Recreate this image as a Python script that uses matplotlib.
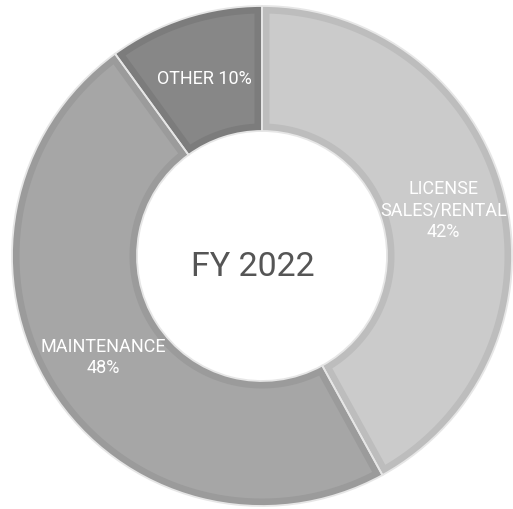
import numpy as np
import matplotlib
matplotlib.use("Agg")
import matplotlib.pyplot as plt
from matplotlib.patches import Polygon

plt.rcParams['font.family'] = ['Roboto', 'DejaVu Sans']

categories = ["LICENSE\nSALES/RENTAL", "MAINTENANCE", "OTHER"]
values = [42, 48, 10]
label_texts = ["LICENSE\nSALES/RENTAL\n42%", "MAINTENANCE\n48%", "OTHER 10%"]
fill_colors = ["#cbcbcb", "#a6a6a6", "#878787"]
border_colors = ["#bdbdbd", "#9b9b9b", "#7c7c7c"]
center_text = "FY 2022"

W, H = 513, 510
dpi = 100
fig = plt.figure(figsize=(W / dpi, H / dpi), dpi=dpi)
ax = fig.add_axes([0, 0, 1, 1])
cx, cy, R = 262, 257, 250
ring_w = 0.5
b = 7.5 / R  # inner border thickness in data units

# base wedges in border colour
wedges, _ = ax.pie(values, startangle=90, counterclock=False, radius=1.0,
                   colors=border_colors, wedgeprops=dict(width=ring_w, linewidth=0))

# inset fill region of each wedge
for w, fc in zip(wedges, fill_colors):
    a1, a2 = np.deg2rad(w.theta1), np.deg2rad(w.theta2)
    ro, ri = 1.0 - b, 1.0 - ring_w + b
    o1, o2 = a1 + np.arcsin(b / ro), a2 - np.arcsin(b / ro)
    i1, i2 = a1 + np.arcsin(b / ri), a2 - np.arcsin(b / ri)
    to = np.linspace(o1, o2, 120)
    ti = np.linspace(i2, i1, 120)
    pts = np.vstack([np.column_stack([ro * np.cos(to), ro * np.sin(to)]),
                     np.column_stack([ri * np.cos(ti), ri * np.sin(ti)])])
    ax.add_patch(Polygon(pts, closed=True, facecolor=fc, edgecolor='none', zorder=2))

# thin light separators
seps, _ = ax.pie(values, startangle=90, counterclock=False, radius=1.0,
                 colors=['none'] * len(values),
                 wedgeprops=dict(width=ring_w, linewidth=1.3, edgecolor='#e6e6e6', fill=False))
for s in seps:
    s.set_zorder(3)

ax.set_xlim(-cx / R, (W - cx) / R)
ax.set_ylim((cy - H) / R, cy / R)
ax.set_aspect('equal')
ax.axis('off')

# labels along wedge mid-angles
total = sum(values)
start = 90.0
for v, txt in zip(values, label_texts):
    span = 360.0 * v / total
    mid = np.deg2rad(start - span / 2)
    start -= span
    r = 0.75
    ax.text(r * np.cos(mid), r * np.sin(mid), txt, ha='center', va='center',
            color='white', fontsize=13, linespacing=1.25, zorder=4)

ax.text(-0.035, -0.04, center_text, ha='center', va='center', color='#555555',
        fontsize=24.5, zorder=4)

fig.savefig("out.png", dpi=dpi, facecolor='white')
